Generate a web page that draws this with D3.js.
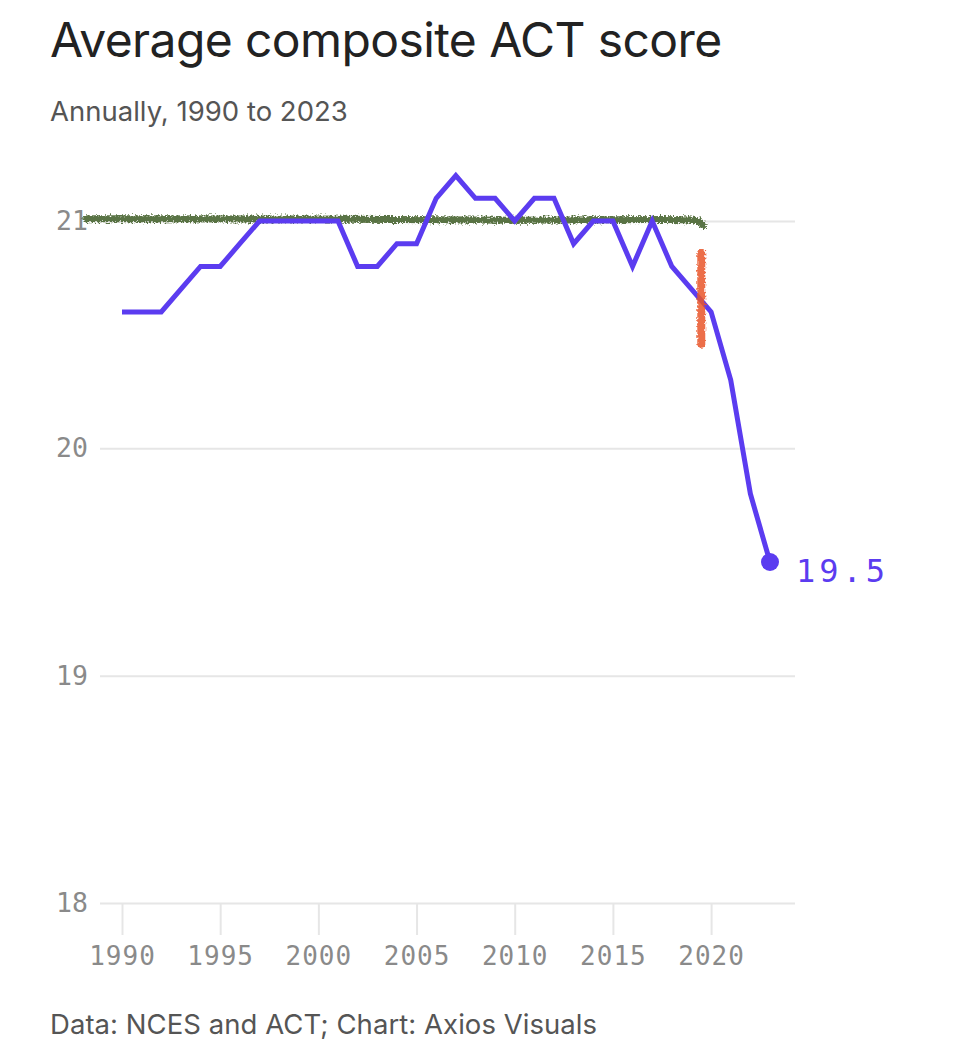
<!DOCTYPE html>
<html>
<head>
<meta charset="utf-8">
<script src="https://cdn.jsdelivr.net/npm/d3@7"></script>
<style>
  html, body { margin: 0; padding: 0; background: #fff; }
  svg { display: block; }
</style>
</head>
<body>
<div id="chart"></div>
<script>
// ---- Data ----
const years = [1990,1991,1992,1993,1994,1995,1996,1997,1998,1999,2000,2001,2002,2003,2004,2005,2006,2007,2008,2009,2010,2011,2012,2013,2014,2015,2016,2017,2018,2019,2020,2021,2022,2023];
const scores = [20.6,20.6,20.6,20.7,20.8,20.8,20.9,21.0,21.0,21.0,21.0,21.0,20.8,20.8,20.9,20.9,21.1,21.2,21.1,21.1,21.0,21.1,21.1,20.9,21.0,21.0,20.8,21.0,20.8,20.7,20.6,20.3,19.8,19.5];
const yTicks = [18, 19, 20, 21];
const xTicks = [1990, 1995, 2000, 2005, 2010, 2015, 2020];
const lastLabel = "19.5";
// hand-drawn annotation marks (year, score)
const greenMarkX = [1988.2, 2000, 2010, 2019.0, 2019.4, 2019.6];
const greenMarkY = [21.01, 21.01, 21.0, 21.01, 21.0, 20.98];
const orangeMarkX = [2019.5, 2019.5];
const orangeMarkY = [20.86, 20.46];

const title = "Average composite ACT score";
const subtitle = "Annually, 1990 to 2023";
const source = "Data: NCES and ACT; Chart: Axios Visuals";

// ---- Layout ----
const W = 961, H = 1048;
const svg = d3.select("#chart").append("svg").attr("width", W).attr("height", H);

const defs = svg.append("defs");
function roughFilter(id, seed, scale, freq) {
  const f = defs.append("filter").attr("id", id)
    .attr("filterUnits", "userSpaceOnUse")
    .attr("x", 0).attr("y", 0).attr("width", W).attr("height", H);
  f.append("feTurbulence").attr("type", "fractalNoise").attr("baseFrequency", freq)
    .attr("numOctaves", 2).attr("seed", seed).attr("result", "noise");
  f.append("feDisplacementMap").attr("in", "SourceGraphic").attr("in2", "noise")
    .attr("scale", scale).attr("xChannelSelector", "R").attr("yChannelSelector", "G");
}
roughFilter("roughG", 3, 7, 0.6);
roughFilter("roughO", 7, 6, 0.5);

const x = d3.scaleLinear().domain([1990, 2023]).range([122, 770]);
const y = d3.scaleLinear().domain([18, 21]).range([903, 221]);

const monoFont = "'DejaVu Sans Mono', 'Liberation Mono', monospace";
const sansFont = "Inter, 'Noto Sans', sans-serif";

// Title etc.
svg.append("text").attr("x", 50).attr("y", 57).text(title)
  .attr("font-family", sansFont).attr("font-size", 48).attr("fill", "#222")
  .attr("letter-spacing", -0.6);
svg.append("text").attr("x", 50).attr("y", 121).text(subtitle)
  .attr("font-family", sansFont).attr("font-size", 27.5).attr("fill", "#555")
  .attr("letter-spacing", 0);
svg.append("text").attr("x", 50).attr("y", 1034).text(source)
  .attr("font-family", sansFont).attr("font-size", 27.5).attr("fill", "#555")
  .attr("letter-spacing", 0.05);

// Gridlines
const yAxis = d3.axisLeft(y).tickValues(yTicks).tickSize(-(795 - 100)).tickPadding(12).tickFormat(d3.format("d"));
const gy = svg.append("g").attr("transform", "translate(100,0)").call(yAxis);
gy.select(".domain").remove();
gy.selectAll(".tick line").attr("stroke", "#e6e6e6").attr("stroke-width", 2);
gy.selectAll(".tick text").attr("font-family", monoFont).attr("font-size", 26.5)
  .attr("fill", "#8a8a8a");

// X axis ticks
const xAxis = d3.axisBottom(x).tickValues(xTicks).tickSize(32).tickPadding(12).tickFormat(d3.format("d"));
const gx = svg.append("g").attr("transform", "translate(0,903)").call(xAxis);
gx.select(".domain").remove();
gx.selectAll(".tick line").attr("stroke", "#e6e6e6").attr("stroke-width", 2);
gx.selectAll(".tick text").attr("font-family", monoFont).attr("font-size", 26)
  .attr("fill", "#8a8a8a").attr("letter-spacing", 1);

// Green hand-drawn mark
const greenPts = greenMarkX.map((v, i) => [v, greenMarkY[i]]);
const markLine = d3.line().x(d => x(d[0])).y(d => y(d[1])).curve(d3.curveBasis);
svg.append("path").attr("d", markLine(greenPts))
  .attr("fill", "none").attr("stroke", "#4a6630").attr("stroke-width", 7)
  .attr("stroke-linecap", "round").attr("opacity", 0.9)
  .attr("filter", "url(#roughG)");

// Purple line
const line = d3.line().x((d, i) => x(years[i])).y(d => y(d));
svg.append("path").attr("d", line(scores))
  .attr("fill", "none").attr("stroke", "#5b3cf0").attr("stroke-width", 5)
  .attr("stroke-linejoin", "miter").attr("stroke-linecap", "butt");

// Orange hand-drawn mark
const orangePts = orangeMarkX.map((v, i) => [v, orangeMarkY[i]]);
svg.append("path").attr("d", d3.line().x(d => x(d[0])).y(d => y(d[1]))(orangePts))
  .attr("fill", "none").attr("stroke", "#e9552a").attr("stroke-width", 8)
  .attr("stroke-linecap", "round").attr("opacity", 0.85)
  .attr("filter", "url(#roughO)");

// End point
const li = years.length - 1;
svg.append("circle").attr("cx", x(years[li])).attr("cy", y(scores[li])).attr("r", 9)
  .attr("fill", "#5b3cf0");
svg.append("text").attr("x", x(years[li]) + 26).attr("y", y(scores[li]) + 20)
  .text(lastLabel).attr("font-family", monoFont).attr("font-size", 32)
  .attr("fill", "#5b3cf0").attr("letter-spacing", 4);
</script>
</body>
</html>
